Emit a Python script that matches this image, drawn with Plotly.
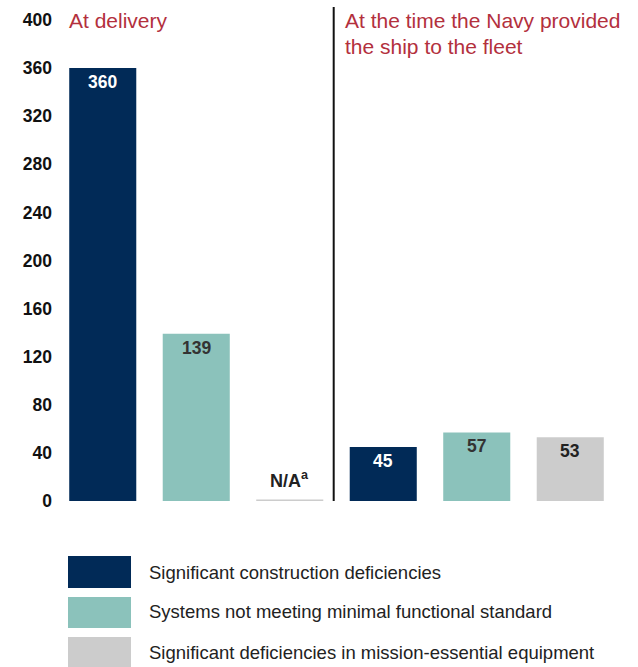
import plotly.graph_objects as go

# Deficiency counts at two points in the ship's acceptance process
series_names = [
    "Significant construction deficiencies",
    "Systems not meeting minimal functional standard",
    "Significant deficiencies in mission-essential equipment",
]
series_colors = ["#012a57", "#8bc2bb", "#cccccc"]
label_colors = ["#ffffff", "#333333", "#222222"]

at_delivery = [360, 139, None]        # mission-essential equipment not assessed (N/A)
at_fleet_delivery = [45, 57, 53]

group_titles = ["At delivery", "At the time the Navy provided", "the ship to the fleet"]
y_ticks = [0, 40, 80, 120, 160, 200, 240, 280, 320, 360, 400]

BAR_W = 0.717
FONT = "Liberation Sans, Arial, sans-serif"

fig = go.Figure()
annotations = []
shapes = []

for i, name in enumerate(series_names):
    xs, ys = [], []
    for offset, vals in ((0, at_delivery), (3, at_fleet_delivery)):
        v = vals[i]
        x = i + offset
        if v is None:
            # not assessed: thin baseline marker with an N/A note
            shapes.append(dict(type="line", xref="x", yref="y",
                               x0=x - BAR_W / 2, x1=x + BAR_W / 2, y0=0, y1=0,
                               line=dict(color=series_colors[i], width=3)))
            annotations.append(dict(x=x, y=0, xref="x", yref="y", yshift=22,
                                    text="<b>N/A<sup>a</sup></b>", showarrow=False,
                                    font=dict(family=FONT, size=18, color="#222222")))
            continue
        xs.append(x)
        ys.append(v)
        annotations.append(dict(x=x, y=v, xref="x", yref="y", yshift=-14,
                                text=f"<b>{v}</b>", showarrow=False,
                                font=dict(family=FONT, size=17.5, color=label_colors[i])))
    fig.add_trace(go.Bar(x=xs, y=ys, name=name, width=BAR_W,
                         marker=dict(color=series_colors[i], line=dict(width=0)),
                         showlegend=False, hoverinfo="y"))

# divider between the two groups
shapes.append(dict(type="line", xref="x", yref="paper", x0=2.47, x1=2.47,
                   y0=0, y1=1.027, line=dict(color="#111111", width=2)))

# group headings
red = "#b3303d"
annotations.append(dict(x=0.0196, y=1.0, xref="paper", yref="paper", xanchor="left",
                        yanchor="middle", text=group_titles[0], showarrow=False,
                        font=dict(family=FONT, size=21, color=red)))
annotations.append(dict(x=0.5116, y=(501 - 20) / 481, xref="paper", yref="paper",
                        xanchor="left", yanchor="middle", text=group_titles[1],
                        showarrow=False, font=dict(family=FONT, size=21, color=red)))
annotations.append(dict(x=0.5116, y=(501 - 46) / 481, xref="paper", yref="paper",
                        xanchor="left", yanchor="middle", text=group_titles[2],
                        showarrow=False, font=dict(family=FONT, size=21, color=red)))

# legend: swatches and labels below the plot
def py(px):
    return (501 - px) / 481

swatch_rows = [(556, 588, 572), (597, 628, 611), (637, 668, 652)]
for (top, bottom, mid), name, color in zip(swatch_rows, series_names, series_colors):
    shapes.append(dict(type="rect", xref="paper", yref="paper",
                       x0=0.0214, x1=0.1337, y0=py(bottom), y1=py(top),
                       fillcolor=color, line=dict(width=0)))
    annotations.append(dict(x=0.162, y=py(mid), xref="paper", yref="paper",
                            xanchor="left", yanchor="middle", text=name, showarrow=False,
                            font=dict(family=FONT, size=18.5, color="#222222")))

fig.update_layout(
    width=638, height=667,
    margin=dict(l=56, r=21, t=20, b=166, autoexpand=False),
    paper_bgcolor="white", plot_bgcolor="white",
    barmode="overlay",
    shapes=shapes, annotations=annotations,
    showlegend=False,
    xaxis=dict(range=[-0.5, 5.5], visible=False, fixedrange=True, automargin=False),
    yaxis=dict(range=[0, 400], tickvals=y_ticks,
               ticktext=[f"<b>{t}</b>" for t in y_ticks],
               showgrid=False, zeroline=False, showline=False, ticks="",
               ticklabelstandoff=3, automargin=False,
               tickfont=dict(family=FONT, size=17.5, color="#111111")),
)

fig.write_html("out.html")
